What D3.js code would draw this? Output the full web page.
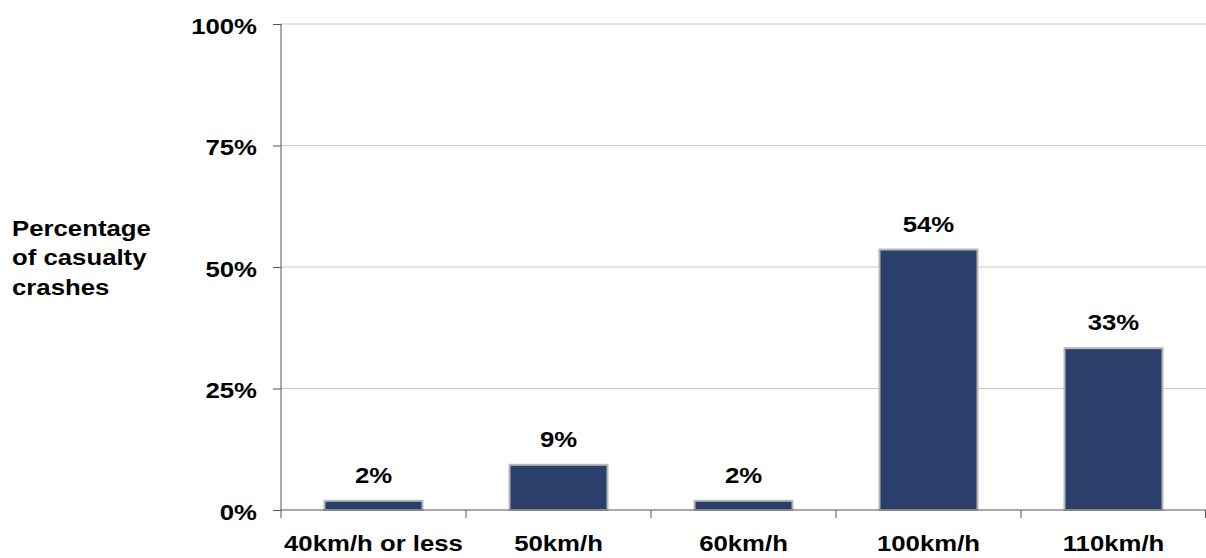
<!DOCTYPE html>
<html><head><meta charset="utf-8">
<script src="https://cdn.jsdelivr.net/npm/d3@7"></script>
<style>body{margin:0;background:#fff}svg{display:block}text{font-family:"Liberation Sans",Arial,sans-serif;font-weight:bold;fill:#000}</style>
</head><body><svg id="c" width="1206" height="558"></svg>
<script>
const categories = ["40km/h or less","50km/h","60km/h","100km/h","110km/h"];
const values = [1.9, 9.3, 1.9, 53.6, 33.3];
const labels = ["2%","9%","2%","54%","33%"];
const yTicks = [0,25,50,75,100];
const yTitle = ["Percentage","of casualty","crashes"];

(function(){
const svg = d3.select("#c");
const pL = 281, pR = 1206, pT = 24, pB = 510;
const SX = 1.12, FS = "23px";
const x = d3.scaleBand().domain(categories).range([pL,pR]).paddingInner(0.47).paddingOuter(0.235);
const xb = d3.scaleBand().domain(categories).range([pL,pR]);
const y = d3.scaleLinear().domain([0,100]).range([pB,pT]);

// gridlines
svg.append("g").selectAll("line").data(yTicks.filter(d=>d>0)).join("line")
  .attr("x1",pL).attr("x2",pR).attr("y1",d=>y(d)).attr("y2",d=>y(d))
  .attr("stroke","#c8c8c8").attr("stroke-width",1);

// bars
svg.append("g").selectAll("rect").data(values).join("rect")
  .attr("x",(d,i)=>x(categories[i])).attr("width",x.bandwidth())
  .attr("y",d=>y(d)).attr("height",d=>pB-y(d))
  .attr("fill","#2a406b").attr("stroke","#b8b8b8").attr("stroke-width",2);

// value labels
svg.append("g").selectAll("text").data(values).join("text")
  .attr("transform",(d,i)=>`translate(${x(categories[i])+x.bandwidth()/2},${y(d)-18}) scale(${SX},1)`)
  .attr("text-anchor","middle").style("font-size",FS).text((d,i)=>labels[i]);

// y axis
const ya = svg.append("g").attr("transform",`translate(${pL},0)`)
  .call(d3.axisLeft(y).tickValues(yTicks).tickFormat(d=>d+"%").tickSize(8).tickPadding(16));
ya.select(".domain").attr("stroke","#555").attr("d",`M0,${pT}V${pB}`);
ya.selectAll(".tick line").attr("stroke","#555");
ya.selectAll("text").style("font-size",FS).attr("font-family",null).attr("fill","#000")
  .attr("x",-24/SX).attr("dy","0.4em").attr("transform",`scale(${SX},1)`);

// x axis
svg.append("line").attr("x1",pL).attr("x2",pR).attr("y1",pB).attr("y2",pB).attr("stroke","#555");
svg.append("g").selectAll("line").data(categories).join("line")
  .attr("x1",d=>xb(d)).attr("x2",d=>xb(d)).attr("y1",pB).attr("y2",pB+8).attr("stroke","#555");
svg.append("line").attr("x1",pR-0.5).attr("x2",pR-0.5).attr("y1",pB).attr("y2",pB+8).attr("stroke","#555");
svg.append("g").selectAll("text").data(categories).join("text")
  .attr("transform",d=>`translate(${xb(d)+xb.bandwidth()/2},551) scale(${SX},1)`).attr("text-anchor","middle")
  .style("font-size",FS).text(d=>d);

// y title
svg.append("text").attr("transform",`translate(12,236) scale(${SX},1)`).style("font-size",FS)
  .selectAll("tspan").data(yTitle).join("tspan").attr("x",0).attr("dy",(d,i)=>i?29.5:0).text(d=>d);
})();
</script></body></html>
